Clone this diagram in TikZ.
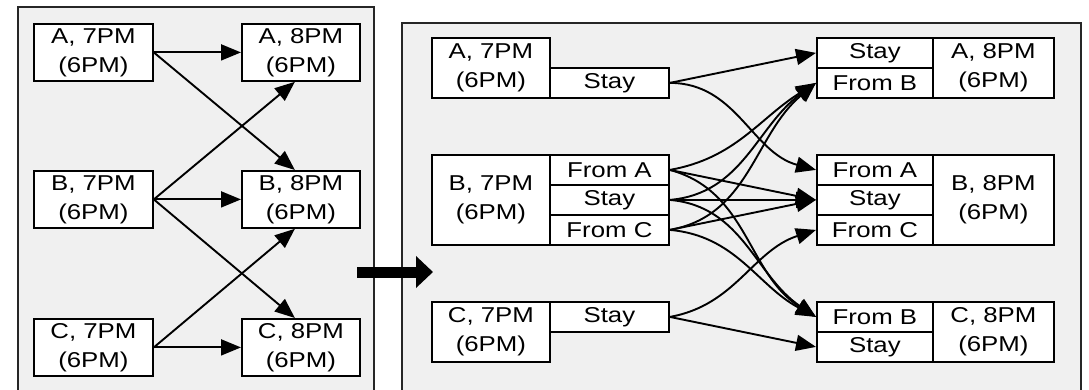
\documentclass[tikz,border=0pt]{standalone}
\usepackage{fontspec}
\setmainfont{Liberation Sans}[FakeStretch=1.2]
\usetikzlibrary{arrows.meta}
\begin{document}
\begin{tikzpicture}[x=1pt,y=-1pt,
  panel/.style={draw=black!85, line width=1.6pt, fill=black!6, inner sep=0pt, anchor=north west},
  box/.style={draw=black, line width=1.8pt, fill=white, inner sep=0pt, anchor=north west,
    align=center, font=\fontsize{21.5}{29}\selectfont},
  cell/.style 2 args={box, minimum width=#1, minimum height=#2},
  conn/.style={line width=1.9pt, -{Triangle[length=20pt,width=16pt]}},
  bigarrow/.style={line width=11pt, -{Triangle[length=17pt,width=31pt]}},
  ]
\useasboundingbox (0,0) rectangle (1089,389);

% the two panels
\node[panel, minimum width=356pt, minimum height=384pt] (P1) at (17,6) {};
\node[panel, minimum width=679pt, minimum height=368pt] (P2) at (401,22) {};

% ---- left panel: plain time-expanded nodes ----
\node[cell={119pt}{57pt}] (A7) at (33,23)  {A, 7PM\\(6PM)};
\node[cell={119pt}{57pt}] (B7) at (33,170) {B, 7PM\\(6PM)};
\node[cell={119pt}{57pt}] (C7) at (33,318) {C, 7PM\\(6PM)};
\node[cell={118pt}{57pt}] (A8) at (241,23)  {A, 8PM\\(6PM)};
\node[cell={118pt}{57pt}] (B8) at (241,170) {B, 8PM\\(6PM)};
\node[cell={118pt}{57pt}] (C8) at (241,318) {C, 8PM\\(6PM)};

\draw[conn] (A7.east) -- (A8.west);
\draw[conn] (A7.east) -- ([xshift=-6pt]B8.north);
\draw[conn] (B7.east) -- ([xshift=-6pt]A8.south);
\draw[conn] (B7.east) -- (B8.west);
\draw[conn] (B7.east) -- ([xshift=-6pt]C8.north);
\draw[conn] (C7.east) -- ([xshift=-6pt]B8.south);
\draw[conn] (C7.east) -- (C8.west);

% ---- transition arrow ----
\coordinate (bigS) at (357,272);
\coordinate (bigE) at (433,272);
\draw[bigarrow] (bigS) -- (bigE);

% ---- right panel: nodes split by arrival direction ----
\node[cell={118pt}{60pt}] (rA7) at (431,37) {A, 7PM\\(6PM)};
\node[cell={119pt}{30pt}] (rA7s) at (549,67) {Stay};

\node[cell={118pt}{90pt}] (rB7) at (431,154) {B, 7PM\\(6PM)};
\node[cell={119pt}{30pt}] (rB7a) at (549,154) {From A};
\node[cell={119pt}{30pt}] (rB7s) at (549,184) {Stay};
\node[cell={119pt}{30pt}] (rB7c) at (549,214) {From C};

\node[cell={118pt}{60pt}] (rC7) at (431,301) {C, 7PM\\(6PM)};
\node[cell={119pt}{30pt}] (rC7s) at (549,301) {Stay};

\node[cell={116pt}{30pt}] (rA8s) at (816,37) {Stay};
\node[cell={116pt}{30pt}] (rA8b) at (816,67) {From B};
\node[cell={121pt}{60pt}] (rA8) at (932,37) {A, 8PM\\(6PM)};

\node[cell={116pt}{30pt}] (rB8a) at (816,154) {From A};
\node[cell={116pt}{30pt}] (rB8s) at (816,184) {Stay};
\node[cell={116pt}{30pt}] (rB8c) at (816,214) {From C};
\node[cell={121pt}{90pt}] (rB8) at (932,154) {B, 8PM\\(6PM)};

\node[cell={116pt}{30pt}] (rC8b) at (816,301) {From B};
\node[cell={116pt}{30pt}] (rC8s) at (816,331) {Stay};
\node[cell={121pt}{60pt}] (rC8) at (932,301) {C, 8PM\\(6PM)};

% from A, 7PM
\draw[conn] (rA7s.east) -- (rA8s.west);
\draw[conn] (rA7s.east) to[out=0,in=165] (rB8a.west);
% from B, 7PM (each arrival copy can leave in three ways)
\draw[conn] (rB7a.east) to[out=10,in=212] (rA8b.west);
\draw[conn] (rB7a.east) -- (rB8s.west);
\draw[conn] (rB7a.east) to[out=-15,in=148] (rC8b.west);
\draw[conn] (rB7s.east) to[out=5,in=216] (rA8b.west);
\draw[conn] (rB7s.east) -- (rB8s.west);
\draw[conn] (rB7s.east) to[out=-5,in=146] (rC8b.west);
\draw[conn] (rB7c.east) to[out=10,in=220] (rA8b.west);
\draw[conn] (rB7c.east) -- (rB8s.west);
\draw[conn] (rB7c.east) to[out=-5,in=152] (rC8b.west);
% from C, 7PM
\draw[conn] (rC7s.east) to[out=10,in=198] (rB8c.west);
\draw[conn] (rC7s.east) -- (rC8s.west);
\end{tikzpicture}
\end{document}
